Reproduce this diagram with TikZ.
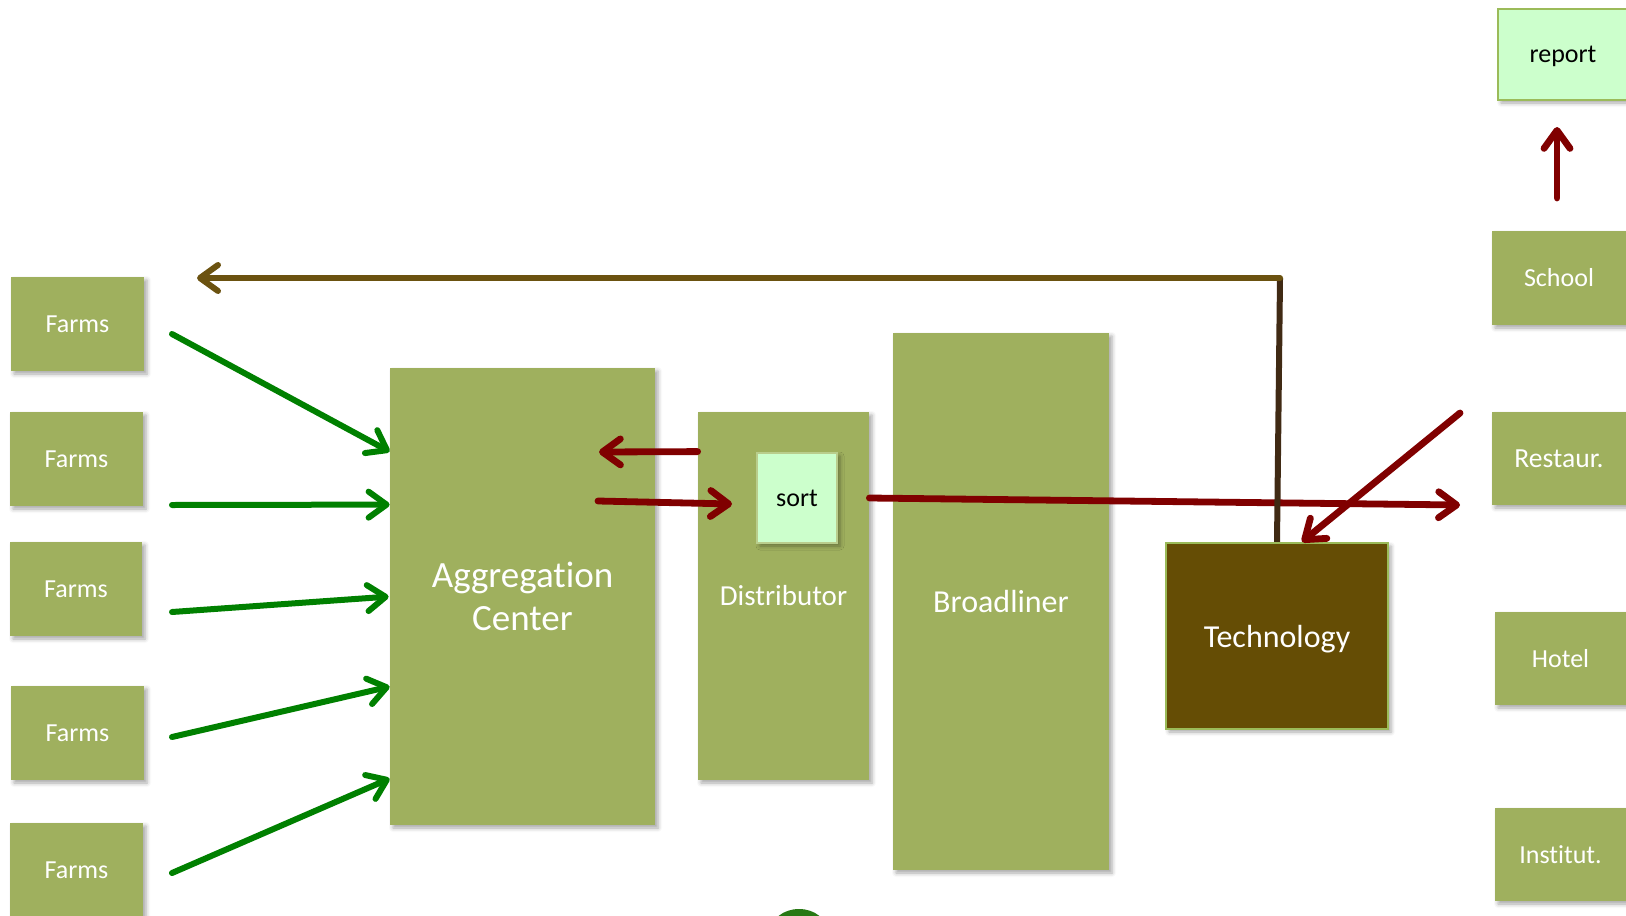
\documentclass[tikz,border=0pt]{standalone}
\usepackage{fontspec}
\setmainfont{Carlito}[Ligatures=NoCommon]
\usetikzlibrary{arrows.meta,calc,shadows.blur}
\definecolor{boxgreen}{RGB}{159,176,94}
\definecolor{lightg}{RGB}{204,255,204}
\definecolor{borderg}{RGB}{155,187,89}
\definecolor{sortborder}{RGB}{185,205,140}
\definecolor{techbrown}{RGB}{101,77,5}
\definecolor{arrgreen}{RGB}{0,128,0}
\definecolor{arrred}{RGB}{128,0,0}
\definecolor{linebrown}{RGB}{107,82,16}
\definecolor{darkbrown}{RGB}{64,42,20}
\definecolor{blobgreen}{RGB}{40,120,20}
\begin{document}
\begin{tikzpicture}[x=0.5pt,y=-0.5pt,
  shade/.style={blur shadow={shadow xshift=1.5pt,shadow yshift=-1.5pt,shadow blur radius=2pt,shadow opacity=35}},
  gbox/.style={shade,fill=boxgreen,text=white,inner sep=0pt,font=\fontsize{13pt}{15pt}\selectfont},
  lbox/.style={shade,fill=lightg,text=black,inner sep=0pt,font=\fontsize{13pt}{15pt}\selectfont},
  tipst/.style={-{Straight Barb[length=9pt,width=13pt,line cap=round,round]}},
  garr/.style={draw=arrgreen,line width=3pt,line cap=round,tipst},
  rarr/.style={draw=arrred,line width=3.4pt,line cap=round,tipst},
  barr/.style={draw=linebrown,line width=3pt,line cap=round,tipst}
]
\useasboundingbox (0,0) rectangle (1626,915);
% farms
\node[gbox,minimum width=66.5pt,minimum height=47pt] (f1) at (77.5,324) {Farms};
\node[gbox,minimum width=66.5pt,minimum height=47pt] (f2) at (76.5,459) {Farms};
\node[gbox,minimum width=66pt,minimum height=47pt] (f3) at (76,589) {Farms};
\node[gbox,minimum width=66.5pt,minimum height=47pt] (f4) at (77.5,733) {Farms};
\node[gbox,minimum width=66.5pt,minimum height=47pt] (f5) at (76.5,870) {Farms};
% central boxes
\node[gbox,minimum width=132.5pt,minimum height=228.5pt,align=center,
  font=\fontsize{18.5pt}{21.8pt}\selectfont] (agg) at (522.5,596.5) {Aggregation\\Center};
\node[gbox,minimum width=85.5pt,minimum height=184pt,
  font=\fontsize{14.5pt}{17pt}\selectfont] (dist) at (783.5,596) {Distributor};
\node[lbox,draw=sortborder,line width=0.6pt,minimum width=40pt,minimum height=45pt] (sort) at (797,498) {sort};
\node[gbox,minimum width=108pt,minimum height=268.5pt,
  font=\fontsize{16pt}{19pt}\selectfont] (broad) at (1001,601.5) {Broadliner};
\node[shade,fill=techbrown,draw=borderg,line width=1.2pt,text=white,inner sep=0pt,
  minimum width=111pt,minimum height=93pt,text depth=0pt,
  font=\fontsize{16pt}{19pt}\selectfont] (tech) at (1277,636) {Technology};
% right column
\node[gbox,minimum width=67pt,minimum height=47pt] (school) at (1559,278) {School};
\node[gbox,minimum width=67pt,minimum height=46.5pt,font=\fontsize{13.8pt}{16pt}\selectfont] (rest) at (1559,458.5) {Restaur.};
\node[gbox,minimum width=65.5pt,minimum height=46.5pt] (hotel) at (1560.5,658.5) {Hotel};
\node[gbox,minimum width=65.5pt,minimum height=46.5pt] (inst) at (1560.5,854.5) {Institut.};
\node[lbox,draw=borderg,line width=1pt,minimum width=65pt,minimum height=45.5pt,text depth=0pt] (report) at (1563,54.5) {report};
% free ends
\coordinate (g1s) at (172,334);
\coordinate (g2s) at (172,505);
\coordinate (g3s) at (172,612);
\coordinate (g4s) at (172,737);
\coordinate (g5s) at (172,873);
\coordinate (r1e) at (599,452);
\coordinate (r2s) at (598,501);
\coordinate (r2e) at (732,504);
\coordinate (r3e) at (1460,505);
\coordinate (r4s) at (1460,413);
\coordinate (r5s) at (1557,198);
\coordinate (r5e) at (1557,127);
\coordinate (bcorner) at (1280,278);
\coordinate (bend) at (197,278);
% green arrows
\draw[garr] (g1s) -- ($(agg.north west)+(0,84)$);
\draw[garr] (g2s) -- ($(agg.north west)+(0,137)$);
\draw[garr] (g3s) -- ($(agg.north west)+(-1,229)$);
\draw[garr] (g4s) -- ($(agg.north west)+(0,319)$);
\draw[garr] (g5s) -- ($(agg.north west)+(0,411)$);
% red arrows
\draw[rarr] ($(dist.north west)+(0,40)$) -- (r1e);
\draw[rarr] (r2s) -- (r2e);
\draw[rarr] (sort.east -| dist.east) -- (r3e);
\draw[rarr] (r4s) -- ($(tech.north)+(25,0)$);
\draw[rarr] (r5s) -- (r5e);
% brown feedback line
\draw[darkbrown,line width=3pt] (tech.north) -- (bcorner);
\draw[barr] (bcorner) -- (bend);
% partial shape at bottom
\fill[blobgreen] (799,931) ellipse [x radius=14pt,y radius=11pt];
\end{tikzpicture}
\end{document}
